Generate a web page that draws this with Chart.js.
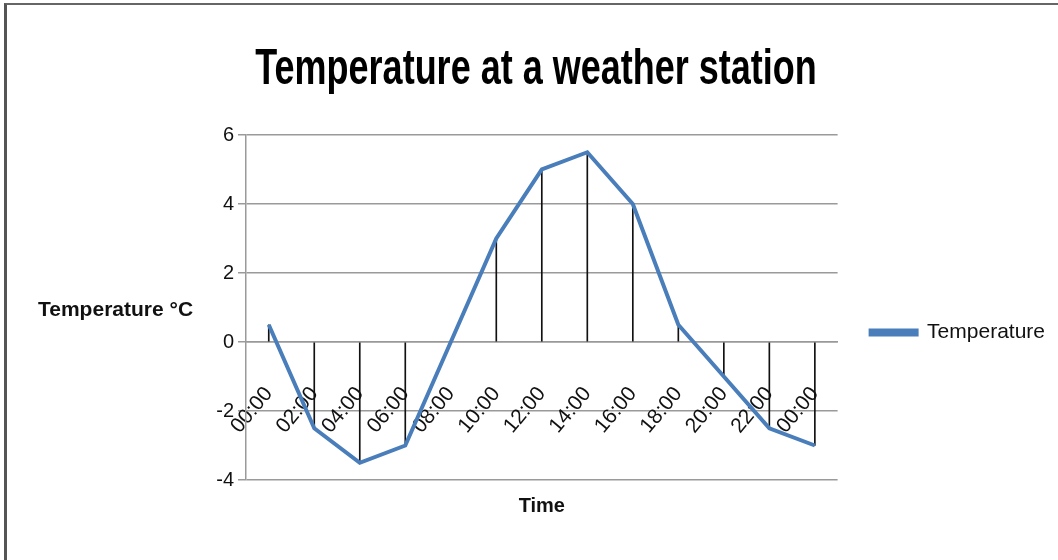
<!DOCTYPE html>
<html>
<head>
<meta charset="utf-8">
<script src="https://cdn.jsdelivr.net/npm/chart.js@4"></script>
<style>
  body { margin: 0; background: #fff; }
  #wrap { position: relative; width: 1058px; height: 560px; }
  #frame {
    position: absolute; left: 4px; top: 3px; width: 1054px; height: 557px;
    border-left: 3px solid #555; border-top: 2px solid #666;
    box-sizing: border-box; pointer-events: none;
  }
  canvas { position: absolute; left: 0; top: 0; }
</style>
</head>
<body>
<div id="wrap">
  <canvas id="temp_chart" width="1058" height="560"></canvas>
  <div id="frame"></div>
</div>
<script>
const chartTitle = "Temperature at a weather station";
const hours = ["00:00", "02:00", "04:00", "06:00", "08:00", "10:00", "12:00",
  "14:00", "16:00", "18:00", "20:00", "22:00", "00:00"];
const temps = [0.5, -2.5, -3.5, -3, 0, 3, 5, 5.5, 4, 0.5, -1, -2.5, -3];
const yTicks = [-4, -2, 0, 2, 4, 6];

const FONT = "'Liberation Sans', Arial, sans-serif";

// excel style texts: squeezed title and a horizontal y axis title
const extraText = {
  id: "extraText",
  afterDraw(chart) {
    const c = chart.ctx;
    c.save();
    c.fillStyle = "#000";
    c.font = "bold 50px " + FONT;
    c.textAlign = "center";
    c.textBaseline = "alphabetic";
    c.translate(536, 84);
    c.scale(0.72, 1);
    c.fillText(chartTitle, 0, 0);
    c.restore();

    c.save();
    c.font = "bold 21px " + FONT;
    c.fillStyle = "#111";
    c.textAlign = "left";
    c.textBaseline = "middle";
    c.fillText("Temperature °C", 38, 310);
    c.restore();
  },
};

const ctx = document.getElementById("temp_chart");

const tempChart = new Chart(ctx, {
  data: {
    labels: hours,
    datasets: [
      {
        type: "line",
        label: "Temperature",
        data: temps,
        borderColor: "#4a7ebb",
        backgroundColor: "#4a7ebb",
        borderWidth: 4,
        pointRadius: 0,
        tension: 0,
        order: 0,
      },
      {
        // drop lines
        type: "bar",
        label: "drop",
        data: temps,
        backgroundColor: "#111",
        barThickness: 1,
        order: 1,
      },
    ],
  },
  options: {
    responsive: false,
    animation: false,
    layout: {
      padding: { left: 0, right: 3, top: 135, bottom: 42 },
    },
    plugins: {
      title: { display: false },
      legend: {
        position: "right",
        title: { display: true, text: "", font: { size: 10 }, padding: 0 },
        labels: {
          filter: (item) => item.datasetIndex === 0,
          boxWidth: 46,
          boxHeight: 4,
          color: "#111",
          font: { family: FONT, size: 21 },
          padding: 33,
        },
      },
      tooltip: { enabled: false },
    },
    scales: {
      x: {
        type: "category",
        offset: true,
        position: { y: 0 },
        grid: { display: false },
        border: { display: true, color: "#999", width: 1.5 },
        ticks: {
          autoSkip: false,
          minRotation: 50,
          maxRotation: 50,
          color: "#111",
          font: { family: FONT, size: 21 },
          padding: 32,
        },
      },
      x2: {
        type: "category",
        labels: hours,
        position: "bottom",
        grid: { display: false },
        border: { display: false },
        ticks: { display: false },
        title: {
          display: true,
          text: "Time",
          color: "#111",
          font: { family: FONT, size: 20, weight: "bold" },
          padding: { top: 6, bottom: 0 },
        },
      },
      y: {
        min: yTicks[0],
        max: yTicks[yTicks.length - 1],
        afterFit: (scale) => { scale.width = 246; },
        ticks: {
          stepSize: 2,
          color: "#111",
          font: { family: FONT, size: 20 },
          padding: 4,
        },
        grid: { color: "#9a9a9a", lineWidth: 1.5, tickLength: 8 },
        border: { color: "#9a9a9a", width: 1.5 },
      },
    },
  },
  plugins: [extraText],
});
</script>
</body>
</html>
